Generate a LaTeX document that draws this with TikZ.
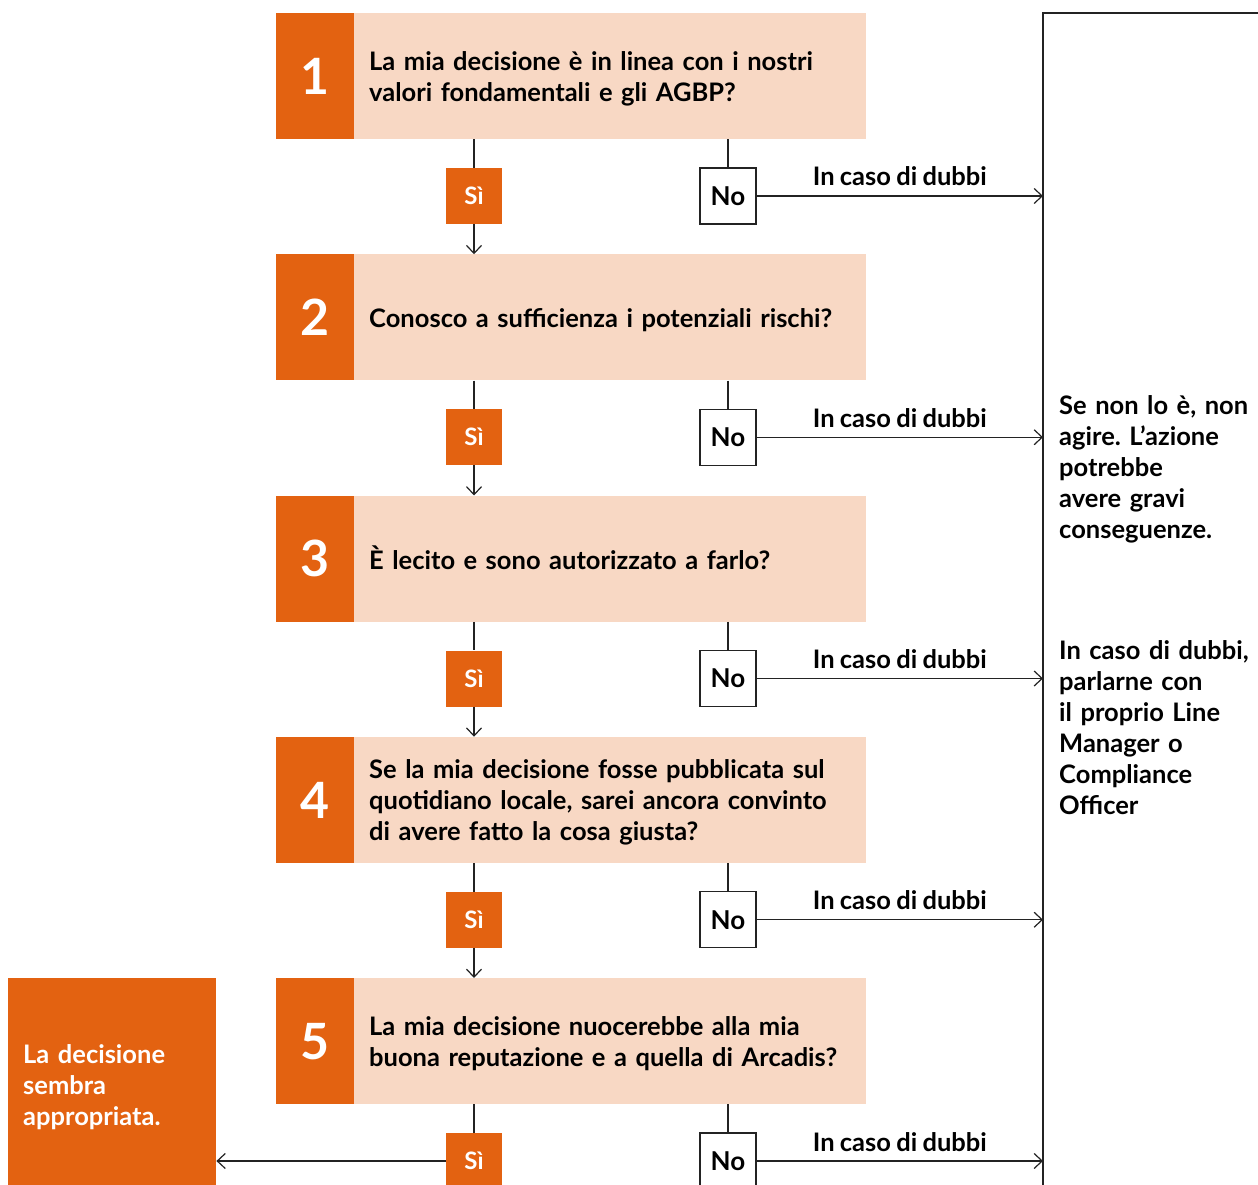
\documentclass[tikz,border=0pt]{standalone}
\usepackage{fontspec}
\setmainfont{Lato}[WordSpace=0.85]
\usetikzlibrary{arrows.meta}
\definecolor{arcorange}{RGB}{227,98,17}
\definecolor{arcpink}{RGB}{248,216,196}
\definecolor{linegrey}{RGB}{35,35,35}
\frenchspacing
\begin{document}
\begin{tikzpicture}[x=1pt,y=-1pt,
  num/.style={fill=arcorange,text=white,minimum width=78pt,minimum height=126pt,inner sep=0pt,anchor=north west,font=\bfseries\fontsize{50}{50}\selectfont},
  ques/.style={fill=arcpink,minimum width=512pt,minimum height=126pt,anchor=north west,inner sep=0pt},
  multiline/.style={inner sep=0pt,align=left,font=\bfseries\fontsize{25.5}{31}\selectfont,execute at begin node={\strut},execute at end node={\strut}},
  qtext/.style={multiline,anchor=west,text width=482pt},
  yesbox/.style={fill=arcorange,text=white,minimum width=56pt,minimum height=56pt,inner sep=0pt,font=\bfseries\fontsize{24}{24}\selectfont},
  nobox/.style={draw=linegrey,line width=1.2pt,fill=white,minimum width=56pt,minimum height=56pt,inner sep=0pt,font=\bfseries\fontsize{26}{26}\selectfont},
  conn/.style={draw=linegrey,line width=1.2pt},
  arr/.style={conn,-{Straight Barb[length=8pt,width=15pt,line width=1.2pt]}},
  doubt/.style={anchor=base,yshift=10pt,inner sep=0pt,font=\bfseries\fontsize{25.5}{26}\selectfont},
  sidetext/.style={multiline,anchor=north west,text width=200pt}
]
\useasboundingbox (0,0) rectangle (1258,1185);
\clip (0,0) rectangle (1258,1185);

% right frame
\coordinate (frameTL) at (1043,13);
\draw[conn] (1260,13) -- (frameTL) -- (1043,1190);

% steps
\foreach \i/\t in {1/{La mia decisione è in linea con i nostri\\valori fondamentali e gli AGBP?},
                  2/{Conosco a sufficienza i potenziali rischi?},
                  3/{È lecito e sono autorizzato a farlo?},
                  4/{Se la mia decisione fosse pubblicata sul\\quotidiano locale, sarei ancora convinto\\di avere fatto la cosa giusta?},
                  5/{La mia decisione nuocerebbe alla mia\\buona reputazione e a quella di Arcadis?}}{
  \pgfmathsetmacro{\ytop}{13+241.25*(\i-1)}
  \node[num] (n\i) at (276,\ytop) {\i};
  \node[ques] (q\i) at (354,\ytop) {};
  \node[qtext] (qt\i) at (369,\ytop+67) {\t};
  \node[yesbox] (y\i) at (474,\ytop+183) {Sì};
  \node[nobox] (no\i) at (728,\ytop+183) {No};
  \draw[conn] (y\i.north |- q\i.south) -- (y\i.north);
  \draw[conn] (no\i.north |- q\i.south) -- (no\i.north);
  \draw[arr] (no\i.east) -- (no\i.east -| frameTL) node[doubt,midway] {In caso di dubbi};
}
\foreach \i/\j in {1/2,2/3,3/4,4/5}{
  \draw[arr] (y\i.south) -- (y\i.south |- q\j.north);
}

% final decision box
\node[fill=arcorange,anchor=north west,minimum width=208pt,minimum height=212pt,inner sep=0pt] (dec) at (8,978) {};
\node[multiline,anchor=west,text=white,text width=190pt] (dect) at (23,1088.5) {La decisione\\sembra\\appropriata.};
\draw[arr] (y5.west) -- (y5.west -| dec.east);

% side texts
\node[sidetext] (t1) at (1059,393) {Se non lo è, non\\agire. L’azione\\potrebbe\\avere gravi\\conseguenze.};
\node[sidetext] (t2) at (1059,638) {In caso di dubbi,\\parlarne con\\il proprio Line\\Manager o\\Compliance\\Officer};
\end{tikzpicture}
\end{document}
